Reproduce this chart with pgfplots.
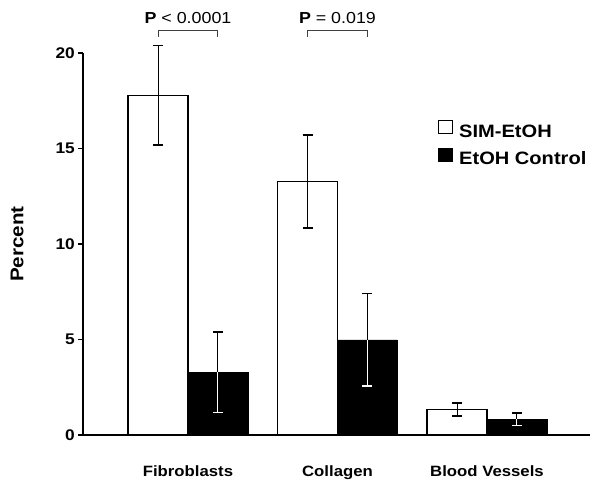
\documentclass[border=0pt]{standalone}
\usepackage{fontspec}
\setmainfont{Liberation Sans}[FakeStretch=1.12]
\usepackage{pgfplots}
\pgfplotsset{compat=1.18}
\pgfplotstableread{
x y e
-0.2 17.78 2.61
0.8 13.27 2.43
1.8 1.34 0.33
}\simdata
\pgfplotstableread{
x y e
0.2 3.28 2.11
1.2 4.98 2.42
2.2 0.82 0.33
}\ctrldata
\begin{document}
\begin{tikzpicture}
\path[use as bounding box] (-83bp,-50bp) rectangle (518bp,435bp);
\begin{axis}[
  scale only axis, width=507bp, height=382bp, at={(0,0)}, anchor=south west,
  xmin=-0.702, xmax=2.689, ymin=0, ymax=20,
  axis x line*=bottom, axis y line*=left,
  axis line style={-, line width=1.6bp},
  ytick={0,5,10,15,20}, xtick={0,1,2},
  xticklabels={Fibroblasts, Collagen, Blood Vessels},
  x tick style={draw=none},
  y tick style={line width=1.2bp, black},
  tick align=outside, major tick length=5bp,
  /pgf/number format/assume math mode=true,
  yticklabel style={font=\bfseries\fontsize{15.5}{18}\selectfont, anchor=east, inner sep=0pt, xshift=-3bp},
  xticklabel style={font=\bfseries\fontsize{15}{18}\selectfont, anchor=base, inner sep=0pt, yshift=-36bp},
  ylabel={Percent},
  ylabel style={at={(axis description cs:-0.130,0.5)}, anchor=center, font=\bfseries\fontsize{18.5}{20}\selectfont},
  legend cell align=left,
  legend style={at={(rel axis cs:0.694,0.83)}, anchor=north west, draw=none, fill=none,
    font=\bfseries\fontsize{18}{20}\selectfont, row sep=8bp,
    nodes={inner sep=2bp, text height=13bp, text depth=0bp}},
  clip=false,
]
\addplot[ybar, bar width=0.4, bar shift=0, fill=white, draw=black, line width=1.5bp,
  legend image code/.code={\draw[black, fill=white, line width=0.8bp] (0bp,-2.5bp) rectangle (14bp,10.5bp); \path (18bp,0bp);},
  error bars/.cd, y dir=both, y explicit,
  error bar style={line width=1bp, black},
  error mark options={rotate=90, mark size=5bp, line width=1.6bp, black}]
  table[x=x, y=y, y error=e] {\simdata};
\addlegendentry{SIM-EtOH}
\addplot[ybar, bar width=0.4, bar shift=0, fill=black, draw=black, line width=0.5bp,
  legend image code/.code={\draw[black, fill=black, line width=0.8bp] (0bp,-2.5bp) rectangle (14bp,10.5bp); \path (18bp,0bp);},
  error bars/.cd, y dir=plus, y explicit,
  error bar style={line width=1bp, black},
  error mark options={rotate=90, mark size=5bp, line width=1.6bp, black}]
  table[x=x, y=y, y error=e] {\ctrldata};
\addlegendentry{EtOH Control}
\addplot[ybar, bar width=0.4, bar shift=0, fill=none, draw=none, forget plot,
  error bars/.cd, y dir=minus, y explicit,
  error bar style={line width=1bp, draw=white},
  error mark options={rotate=90, mark size=5bp, line width=1.6bp, draw=white}]
  table[x=x, y=y, y error=e] {\ctrldata};
\draw[black!75, line width=1bp] (axis cs:-0.2,20.85) -- (axis cs:-0.2,21.17) -- (axis cs:0.2,21.17) -- (axis cs:0.2,20.85);
\draw[black!75, line width=1bp] (axis cs:0.8,20.85) -- (axis cs:0.8,21.17) -- (axis cs:1.2,21.17) -- (axis cs:1.2,20.85);
\node[anchor=base, inner sep=0pt, font=\fontsize{16}{18}\selectfont] at (axis cs:0,21.57) {\textbf{P} < 0.0001};
\node[anchor=base, inner sep=0pt, font=\fontsize{16}{18}\selectfont] at (axis cs:1,21.57) {\textbf{P} = 0.019};
\end{axis}
\end{tikzpicture}
\end{document}
